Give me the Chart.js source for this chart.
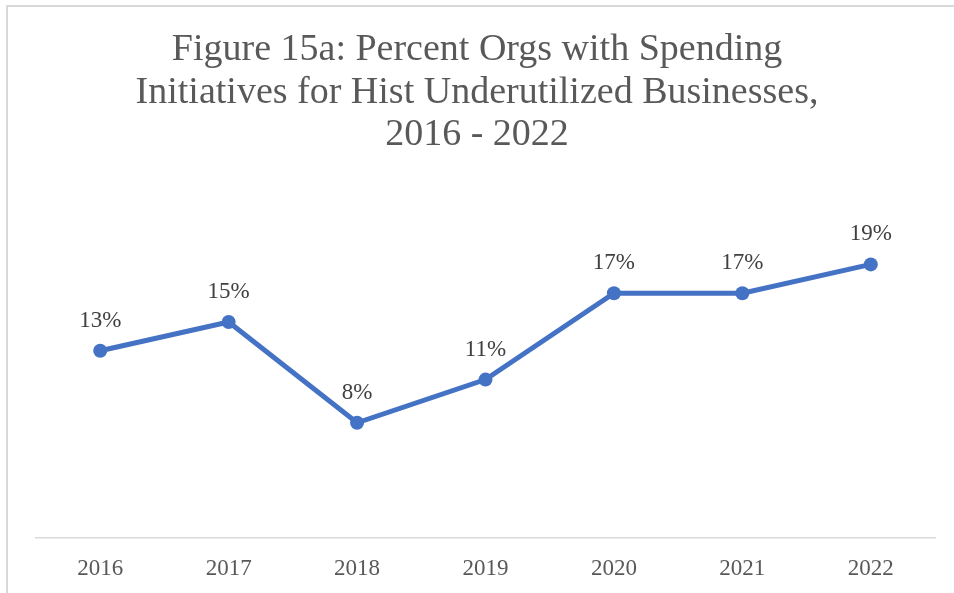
<!DOCTYPE html>
<html lang="en">
<head>
  <meta charset="UTF-8" />
  <title>Figure 15a - Spending Initiatives</title>
  <script src="https://cdn.jsdelivr.net/npm/chart.js"></script>
  <style>
    body { margin: 0; background: #fff; }
    .wrap { position: relative; width: 954px; height: 593px; overflow: hidden; }
    .frame {
      position: absolute; left: 6px; top: 5px; width: 980px; height: 620px;
      border: 2px solid #d9d9d9; box-sizing: border-box;
    }
    #lineChart { position: absolute; left: 0; top: 0; }
  </style>
</head>
<body>
  <div class="wrap">
    <div class="frame"></div>
    <canvas id="lineChart" width="954" height="593"></canvas>
  </div>

  <script>
    // Years and percent of orgs with spending initiatives
    const years = ['2016', '2017', '2018', '2019', '2020', '2021', '2022'];
    const percents = [13, 15, 8, 11, 17, 17, 19];
    const titleLines = [
      'Figure 15a: Percent Orgs with Spending',
      'Initiatives for Hist Underutilized Businesses,',
      '2016 - 2022'
    ];

    const serif = "'Liberation Serif', 'Times New Roman', serif";

    // Title, centred on the whole figure
    const figureTitle = {
      id: 'figureTitle',
      afterDraw(chart) {
        const ctx = chart.ctx;
        ctx.save();
        ctx.font = '38px ' + serif;
        ctx.fillStyle = '#595959';
        ctx.textAlign = 'center';
        ctx.textBaseline = 'alphabetic';
        titleLines.forEach((line, i) => {
          ctx.fillText(line, 477, 60 + i * 42.5);
        });
        ctx.restore();
      }
    };

    // Draws the "NN%" label above each point
    const pointLabels = {
      id: 'pointLabels',
      afterDatasetsDraw(chart) {
        const ctx = chart.ctx;
        const meta = chart.getDatasetMeta(0);
        ctx.save();
        ctx.font = '23px ' + serif;
        ctx.fillStyle = '#404040';
        ctx.textAlign = 'center';
        ctx.textBaseline = 'middle';
        meta.data.forEach((pt, i) => {
          ctx.fillText(percents[i] + '%', pt.x, pt.y - 30);
        });
        ctx.restore();
      }
    };

    new Chart(document.getElementById('lineChart'), {
      type: 'line',
      data: {
        labels: years,
        datasets: [{
          data: percents,
          borderColor: '#4472C4',
          backgroundColor: '#4472C4',
          borderWidth: 5,
          pointRadius: 7,
          pointBorderWidth: 0,
          fill: false,
          tension: 0
        }]
      },
      options: {
        responsive: false,
        animation: false,
        layout: { padding: { left: 36, right: 19, top: 178, bottom: 0 } },
        plugins: {
          legend: { display: false },
          tooltip: { enabled: false },
          title: { display: false }
        },
        scales: {
          x: {
            offset: true,
            grid: { display: false, drawTicks: false },
            border: { display: true, color: '#d9d9d9', width: 1.5 },
            ticks: {
              color: '#595959',
              font: { family: serif, size: 23 },
              padding: 17
            },
            afterFit(scale) { scale.height = 55; }
          },
          y: {
            display: false,
            min: 0,
            max: 25
          }
        }
      },
      plugins: [pointLabels, figureTitle]
    });
  </script>
</body>
</html>
